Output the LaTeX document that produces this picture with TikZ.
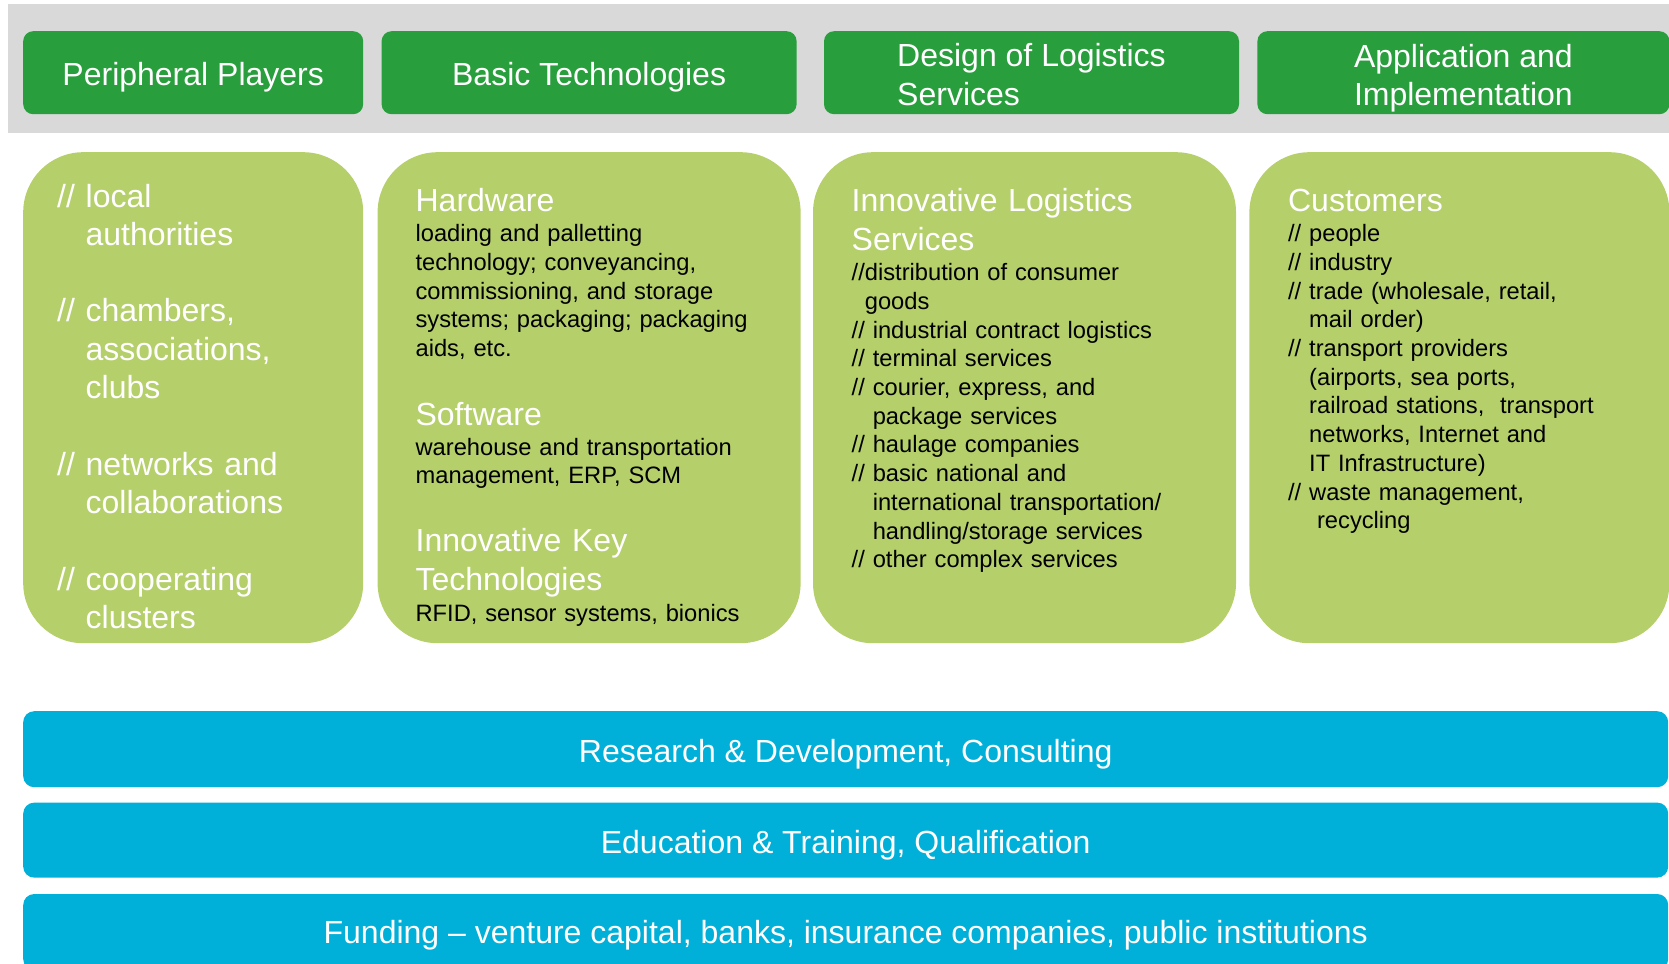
\documentclass[tikz,border=0pt]{standalone}
\usepackage{fontspec}
\setmainfont{Liberation Sans}
\usetikzlibrary{positioning}
\definecolor{hdgreen}{RGB}{40,158,60}
\definecolor{lightgreen}{RGB}{181,207,107}
\definecolor{barblue}{RGB}{0,176,216}
\definecolor{bandgray}{RGB}{217,217,217}
\newcommand{\bigtxt}{\fontsize{32}{38.3}\selectfont}
\newcommand{\smalltxt}{\fontsize{23.7}{28.7}\selectfont}
\newcommand{\slashind}{\hphantom{// }}
\newcommand{\toprule}{\rule{0pt}{27pt}}
\tikzset{hdbox/.style={fill=hdgreen,draw=none,rounded corners=10pt,minimum height=83pt,inner sep=0pt,text=white,font=\bigtxt,align=left},
  hdone/.style={hdbox,text height=25pt,text depth=0pt},
  colbox/.style={fill=lightgreen,draw=none,rounded corners=60pt,minimum height=491pt,inner sep=0pt},
  barbox/.style={fill=barblue,draw=none,rounded corners=11pt,minimum width=1645pt,inner sep=0pt,text=white,font=\bigtxt,text height=26pt,text depth=0pt},
  headtext/.style={anchor=base west,inner sep=0pt,text=white,font=\bigtxt,text width=#1,align=left},
  bodytext/.style={anchor=base west,inner sep=0pt,text=black,font=\smalltxt,text width=#1,align=left}}

\begin{document}
\begin{tikzpicture}[x=1pt,y=-1pt]
        \useasboundingbox (0,0) rectangle (1669,963);
        \clip (0,0) rectangle (1669,963);
        \node[fill=bandgray,minimum width=1661pt,minimum height=129pt,inner sep=0pt,anchor=north west] (band) at (8,4) {};

        \node[hdone,minimum width=340pt,anchor=north west] (hdA) at (23,31) {Peripheral Players};
        \node[hdone,minimum width=415pt,right=18pt of hdA] (hdB) {Basic Technologies};
        \node[hdbox,minimum width=415pt,right=27pt of hdB] (hdC) {\toprule Design of Logistics\\Services};
        \node[hdbox,minimum width=412pt,right=18pt of hdC] (hdD) {\toprule Application and\\\smash{Implementation}};

        \node[colbox,minimum width=340pt,anchor=north west] (colA) at (23,152) {};
        \node[colbox,minimum width=423pt,right=14pt of colA] (colB) {};
        \node[colbox,minimum width=423pt,right=12pt of colB] (colC) {};
        \node[colbox,minimum width=420pt,right=13pt of colC] (colD) {};

        \node[headtext=300pt] (players) at ([xshift=34pt,yshift=-55pt]colA.north west)
            {// local\\\slashind authorities\\[38.3pt]// chambers,\\\slashind associations,\\\slashind clubs\\[38.3pt]// networks and\\\slashind collaborations\\[38.3pt]// cooperating\\\slashind clusters};

        \node[headtext=370pt] (hw) at ([xshift=38pt,yshift=-59.7pt]colB.north west) {Hardware};
        \node[bodytext=370pt] (hwtxt) at ([yshift=-30pt]hw.base west)
            {loading and palletting\\technology; conveyancing,\\commissioning, and storage\\systems; packaging; packaging\\aids, etc.};
        \node[headtext=370pt] (sw) at ([yshift=-213.3pt]hw.base west) {Software};
        \node[bodytext=370pt] (swtxt) at ([yshift=-30pt]sw.base west)
            {warehouse and transportation\\management, ERP, SCM};
        \node[headtext=370pt] (ikt) at ([yshift=-340pt]hw.base west) {Innovative Key\\Technologies};
        \node[bodytext=370pt] (ikttxt) at ([yshift=-70pt]ikt.base west) {RFID, sensor systems, bionics};

        \node[headtext=370pt] (ils) at ([xshift=38.7pt,yshift=-59.7pt]colC.north west) {Innovative Logistics\\Services};
        \node[bodytext=370pt] (ilstxt) at ([yshift=-69pt]ils.base west)
            {//distribution of consumer\\\hphantom{//}goods\\// industrial contract logistics\\// terminal services\\// courier, express, and\\\slashind package services\\// haulage companies\\// basic national and\\\slashind international transportation/\\\slashind handling/storage services\\// other complex services};

        \node[headtext=370pt] (cust) at ([xshift=38.7pt,yshift=-59.7pt]colD.north west) {Customers};
        \node[bodytext=360pt] (custtxt) at ([yshift=-30pt]cust.base west)
            {// people\\// industry\\// trade (wholesale, retail,\\\slashind mail order)\\// transport providers\\\slashind (airports, sea ports,\\\slashind railroad stations,\ \ transport\\\slashind networks, Internet and\\\slashind IT Infrastructure)\\// waste management,\\\slashind\ recycling};

        \node[barbox,minimum height=76pt,anchor=north west] (barA) at (23,711) {Research \& Development, Consulting};
        \node[barbox,minimum height=75pt,below=15pt of barA] (barB) {Education \& Training, Qualification};
        \node[barbox,minimum height=76pt,text height=22pt,below=16pt of barB] (barC) {Funding \textendash{} venture capital, banks, insurance companies, public institutions};
\end{tikzpicture}
\end{document}
